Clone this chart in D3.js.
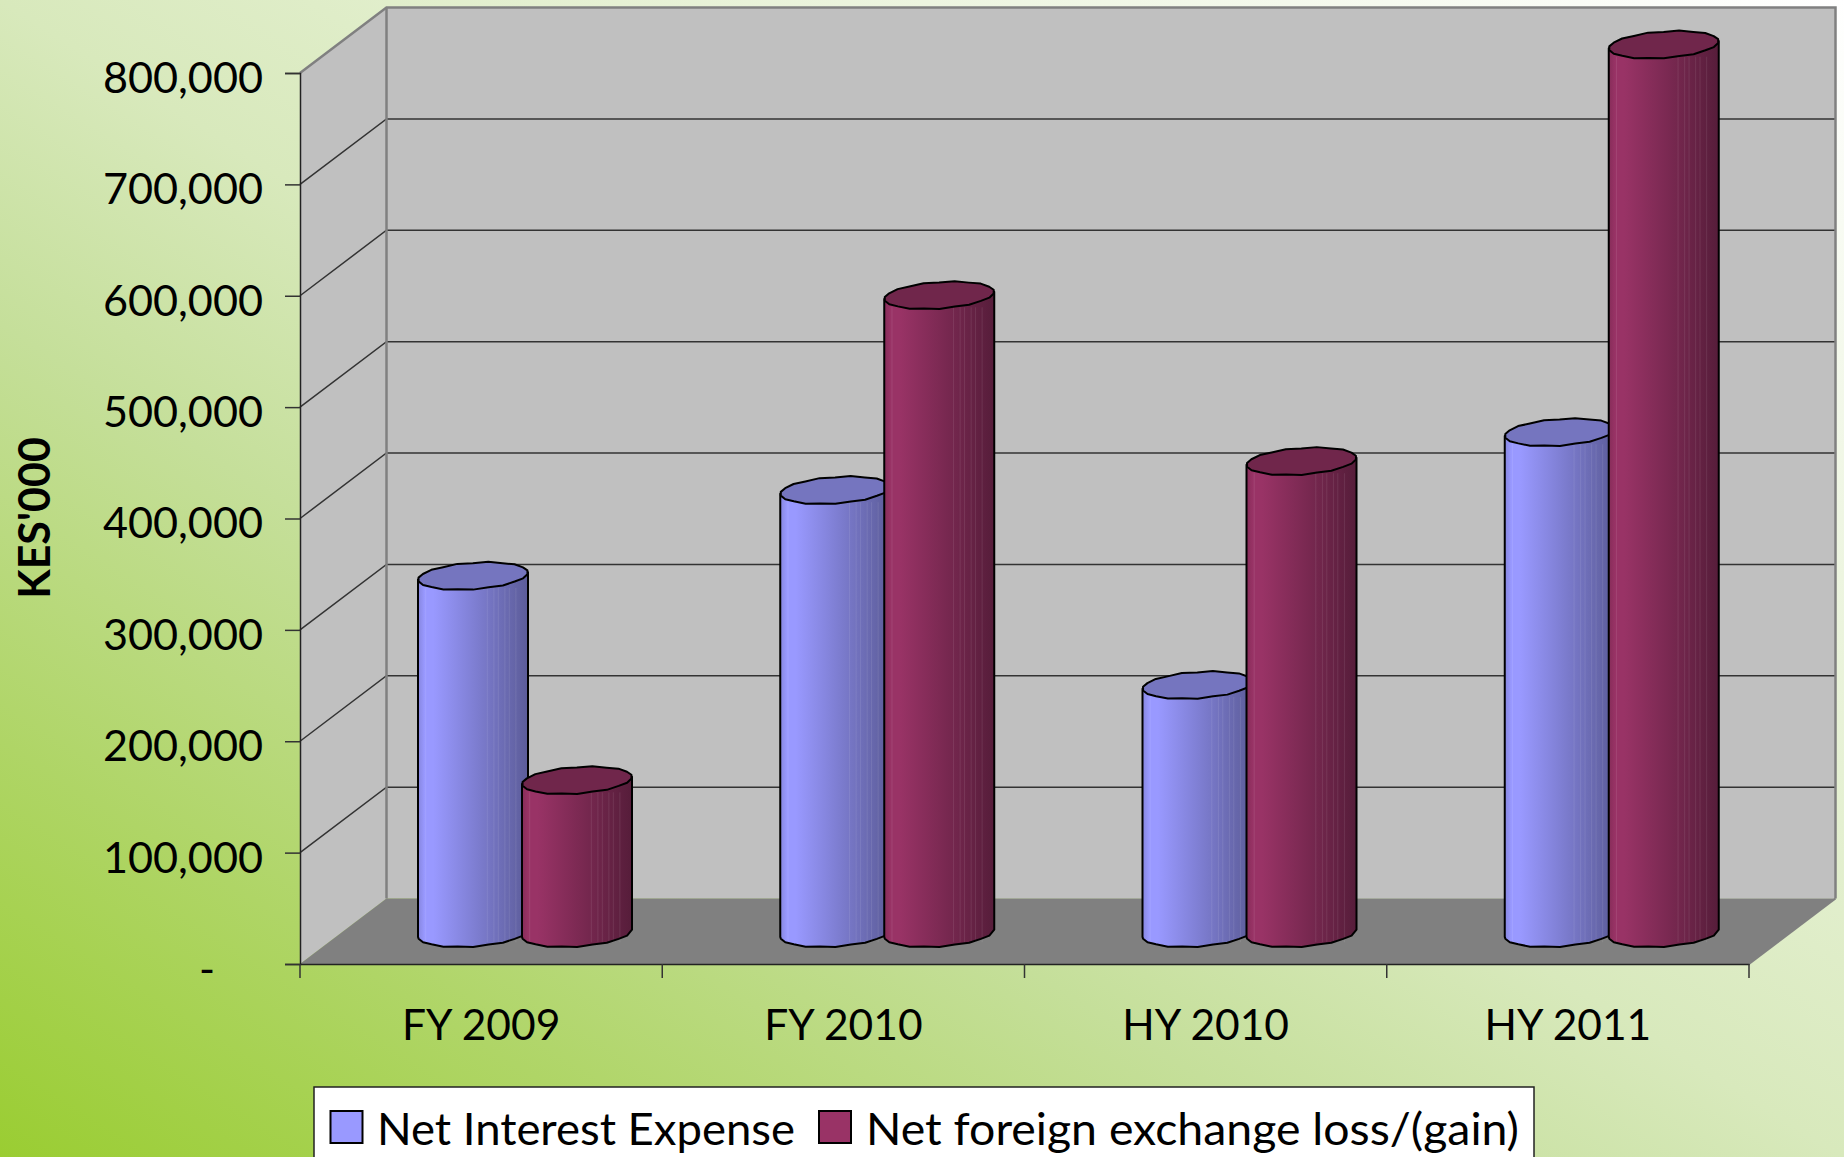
<!DOCTYPE html>
<html>
<head>
<meta charset="utf-8">
<script src="https://cdn.jsdelivr.net/npm/d3@7"></script>
<style>
html,body{margin:0;padding:0;background:#fff;overflow:hidden}
svg{display:block}
text{font-family:Lato,"Open Sans",sans-serif;fill:#000}
</style>
</head>
<body>
<svg id="c" width="1844" height="1157"></svg>
<script>
const categories = ["FY 2009","FY 2010","HY 2010","HY 2011"];
const seriesNames = ["Net Interest Expense","Net foreign exchange loss/(gain)"];
const netInterest = [319000,396000,221000,448000];
const netFx = [135500,571000,422000,796000];
const yTicks = [0,100000,200000,300000,400000,500000,600000,700000,800000];
const yTitle = "KES'000";
const seriesValues = [netInterest,netFx];
const palette = [
  {light:"#9999FF",dark:"#5C5C99",top:"#7575BF",edge:"#8686DF"},
  {light:"#993366",dark:"#561D3A",top:"#70264B",edge:"#862D59"}
];

const W=1844,H=1157;
const svg=d3.select("#c");
const defs=svg.append("defs");

const bg=defs.append("linearGradient").attr("id","bg").attr("x1",0).attr("y1",1).attr("x2",1).attr("y2",0);
[[0,"#9ACD32"],[.18,"#AFD566"],[.36,"#C5DF9A"],[.5,"#D8E9BC"],[.75,"#EDF5E0"],[1,"#FFFFFF"]]
  .forEach(s=>bg.append("stop").attr("offset",s[0]).attr("stop-color",s[1]));
palette.forEach((p,i)=>{
  const g=defs.append("linearGradient").attr("id","cyl"+i).attr("x1",0).attr("y1",0).attr("x2",1).attr("y2",0);
  [[0,p.edge],[.06,p.light],[.14,p.light],[1,p.dark]]
    .forEach(s=>g.append("stop").attr("offset",s[0]).attr("stop-color",s[1]));
});
svg.append("rect").attr("width",W).attr("height",H).attr("fill","url(#bg)");

// scales
const x0=300,x1=1749,dx=86.5,dy=65.5;
const y=d3.scaleLinear().domain([0,800000]).range([964,73]);
const xCat=d3.scaleBand().domain(categories).range([x0,x1]);
const xSer=d3.scaleBand().domain(seriesNames).range([121,329]);

const yB=v=>y(v)-dy;
const line=d3.line();

// walls
svg.append("path").attr("d",line([[x0,y(800000)],[x0+dx,yB(800000)],[x0+dx,yB(0)],[x0,y(0)]])+"Z")
  .attr("fill","#C0C0C0");
svg.append("path").attr("d",line([[x0+dx,yB(800000)],[x1+dx,yB(800000)],[x1+dx,yB(0)],[x0+dx,yB(0)]])+"Z")
  .attr("fill","#C0C0C0");
svg.append("path").attr("d",line([[x0,y(0)],[x0+dx,yB(0)],[x1+dx,yB(0)],[x1,y(0)]])+"Z")
  .attr("fill","#808080");

// gridlines
yTicks.filter(v=>v>0&&v<800000).forEach(v=>{
  svg.append("path").attr("d",line([[x0,y(v)],[x0+dx,yB(v)],[x1+dx,yB(v)]]))
    .attr("fill","none").attr("stroke","#333").attr("stroke-width",1.5);
});
// wall edges
svg.append("path").attr("d",line([[x0,y(800000)],[x0+dx,yB(800000)],[x1+dx,yB(800000)],[x1+dx,yB(0)]]))
  .attr("fill","none").attr("stroke","#808080").attr("stroke-width",2.5);
svg.append("path").attr("d",line([[x0+dx,yB(800000)],[x0+dx,yB(0)]]))
  .attr("fill","none").attr("stroke","#808080").attr("stroke-width",2.5);
svg.append("path").attr("d",line([[x1,y(0)],[x1+dx,yB(0)]]))
  .attr("fill","none").attr("stroke","#808080").attr("stroke-width",2);

// cylinders: coarse polygons, as in the faceted original
const R=55,B=13.2,K=3.6,N=22,midDx=dx/2,midDy=dy/2,baseDrop=2;
const pt=(cx,cy,i)=>{
  const t=i/N*2*Math.PI+0.14;
  const w=1+(i%2?.035:-.035);
  return [cx+R*Math.cos(t),cy-K*Math.cos(t)+B*w*Math.sin(t)];
};
const ring=(cx,cy)=>d3.range(N).map(i=>pt(cx,cy,i));
const stripes=[.07,.63,.69,.73,.79,.83,.89];
categories.forEach((c,ci)=>{
  seriesNames.forEach((s,si)=>{
    const v=seriesValues[si][ci];
    const cx=xCat(c)+xSer(s)+xSer.bandwidth()/2;
    const cyBase=y(0)-midDy+baseDrop, cyTop=y(v)-midDy;
    const g=svg.append("g");
    const bottom=d3.range(1,N/2).map(i=>pt(cx,cyBase,i));
    const bodyPts=[[cx+R,cyTop-K],[cx+R,cyBase-K],...bottom,[cx-R,cyBase+K],[cx-R,cyTop+K]];
    g.append("path").attr("d",line(bodyPts)+"Z")
      .attr("fill",`url(#cyl${si})`);
    stripes.forEach(f=>{
      const sx=cx-R+2*R*f;
      g.append("line").attr("x1",sx).attr("x2",sx).attr("y1",cyTop+12).attr("y2",cyBase+9)
        .attr("stroke","#fff").attr("stroke-opacity",.09).attr("stroke-width",1);
    });
    g.append("path").attr("d",line(bodyPts)+"Z")
      .attr("fill","none").attr("stroke","#000").attr("stroke-width",2).attr("stroke-linejoin","round");
    g.append("path").attr("d",line(ring(cx,cyTop))+"Z")
      .attr("fill",palette[si].top).attr("stroke","#000").attr("stroke-width",2).attr("stroke-linejoin","round");
  });
});

// y axis
const fmt=d=>d===0?"-":d3.format(",")(d);
const yAxis=d3.axisLeft(y).tickValues(yTicks).tickFormat(fmt).tickSize(15).tickPadding(22);
const gy=svg.append("g").attr("transform",`translate(${x0},0)`).call(yAxis);
gy.select(".domain").attr("stroke","#222").attr("stroke-width",1.5);
gy.selectAll(".tick line").attr("stroke","#333").attr("stroke-width",1.5);
gy.selectAll(".tick text").attr("font-size",43.2).attr("font-family","Lato").attr("fill","#000")
  .attr("dy",".45em");
gy.selectAll(".tick text").filter(d=>d===0).attr("dx",-48);

// x axis
const xAxis=d3.axisBottom(xCat).tickSize(0).tickPadding(46);
const gx=svg.append("g").attr("transform",`translate(0,${y(0)})`).call(xAxis);
gx.select(".domain").attr("stroke","#222").attr("stroke-width",1.5);
gx.selectAll(".tick text").attr("font-size",42.5).attr("font-family","Lato").attr("fill","#000");
[...categories.map(c=>xCat(c)),x1].forEach(px=>{
  gx.append("line").attr("x1",px).attr("x2",px).attr("y1",0).attr("y2",14)
    .attr("stroke","#333").attr("stroke-width",1.5);
});

// y title
svg.append("text").attr("transform","translate(50,518) rotate(-90)")
  .attr("text-anchor","middle").attr("font-size",43).attr("font-weight",700).text(yTitle);

// legend
const lg=svg.append("g");
lg.append("rect").attr("x",314).attr("y",1087).attr("width",1220).attr("height",90)
  .attr("fill","#fff").attr("stroke","#222").attr("stroke-width",1.5);
const legendX=[330.5,819], textX=[377,866], textW=[418,653];
seriesNames.forEach((s,i)=>{
  lg.append("rect").attr("x",legendX[i]).attr("y",1111).attr("width",32).attr("height",32)
    .attr("fill",palette[i].light).attr("stroke","#000").attr("stroke-width",2);
  lg.append("text").attr("x",textX[i]).attr("y",1145).attr("font-size",44)
    .attr("textLength",textW[i]).attr("lengthAdjust","spacingAndGlyphs").text(s);
});
</script>
</body>
</html>
